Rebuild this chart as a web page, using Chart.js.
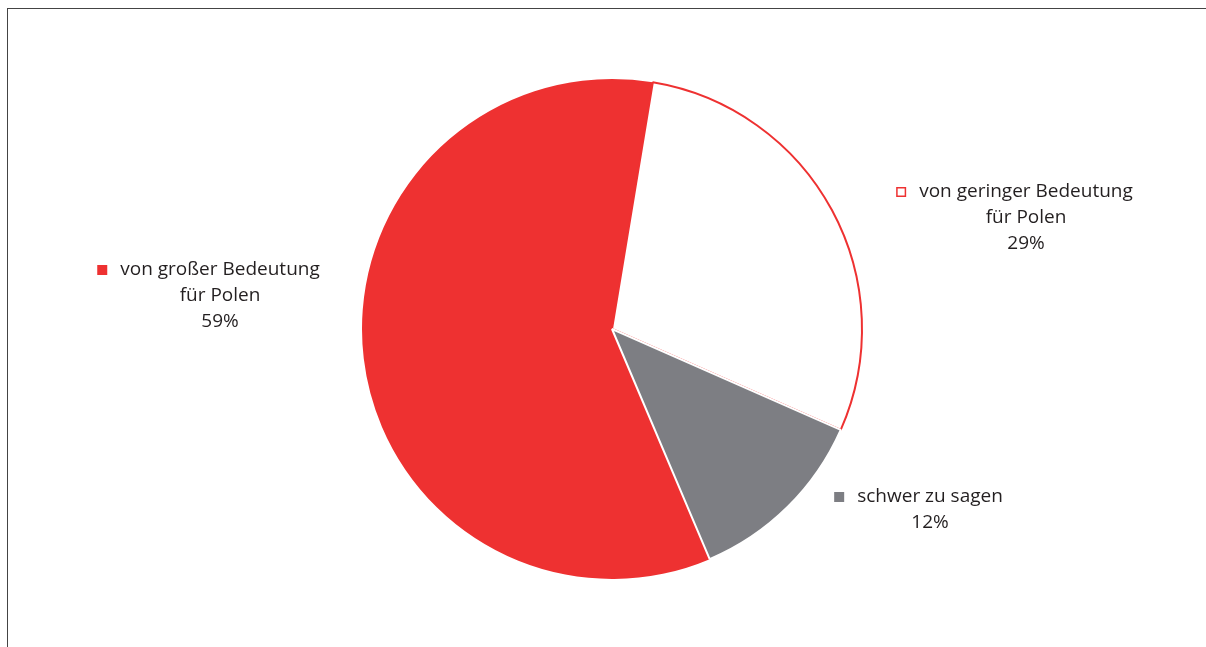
<!DOCTYPE html>
<html lang="de">
<head>
    <meta charset="UTF-8">
    <title>Bedeutung für Polen</title>
    <script src="https://cdn.jsdelivr.net/npm/chart.js"></script>
    <style>
        body {
            margin: 0;
            background: #fff;
            font-family: 'Open Sans', sans-serif;
        }

        .wrap {
            position: relative;
            width: 1206px;
            height: 647px;
            overflow: hidden;
        }

        .frame {
            position: absolute;
            left: 7px;
            top: 8px;
            right: -10px;
            bottom: -10px;
            border-top: 1.5px solid #444;
            border-left: 1.5px solid #444;
        }

        canvas {
            position: absolute;
            left: 0;
            top: 0;
        }
    </style>
</head>
<body>
<div class="wrap">
    <div class="frame"></div>
    <canvas id="pie" width="1206" height="647"></canvas>
</div>

<script>
// Daten
const labels = [
    ['von großer Bedeutung', 'für Polen'],
    ['von geringer Bedeutung', 'für Polen'],
    ['schwer zu sagen']
];
const values = [59, 29, 12];
const fillColors = ['#ee3131', '#ffffff', '#7d7e83'];
const edgeColors = ['#ee3131', '#ee3131', '#ffffff'];

// Position der Beschriftung relativ zur Mitte, in Radius-Einheiten
const labelPos = [
    [-1.568, -0.236],
    [1.656, -0.548],
    [1.272, 0.672]
];

const pieLabels = {
    id: 'pieLabels',
    afterDatasetsDraw(chart) {
        const ctx = chart.ctx;
        const meta = chart.getDatasetMeta(0);
        const arc0 = meta.data[0];
        const cx = arc0.x, cy = arc0.y, r = arc0.outerRadius;
        ctx.save();
        ctx.font = '19px "Open Sans"';
        ctx.textAlign = 'center';
        ctx.textBaseline = 'middle';
        labels.forEach((lines, i) => {
            const x = cx + labelPos[i][0] * r;
            const y = cy + labelPos[i][1] * r;
            const rows = lines.concat([values[i] + '%']);
            ctx.fillStyle = '#231f20';
            rows.forEach((t, j) => {
                ctx.fillText(t, x, y + j * 26);
            });
            // Marker vor der ersten Zeile
            const w = ctx.measureText(rows[0]).width;
            const mx = x - w / 2 - 23, my = y - 5;
            if (fillColors[i] === '#ffffff') {
                ctx.strokeStyle = edgeColors[i];
                ctx.lineWidth = 1.5;
                ctx.strokeRect(mx + 0.75, my + 0.75, 8.5, 8.5);
            } else {
                ctx.fillStyle = fillColors[i];
                ctx.fillRect(mx, my, 10, 10);
            }
        });
        ctx.restore();
    }
};

new Chart(document.getElementById('pie'), {
    type: 'pie',
    data: {
        labels: labels.map(l => l.join(' ')),
        datasets: [{
            data: values,
            backgroundColor: fillColors,
            borderColor: edgeColors,
            borderWidth: [0, 2, 2],
            hoverOffset: 0,
            hoverBorderWidth: 0
        }]
    },
    options: {
        responsive: false,
        animation: false,
        rotation: 157,
        layout: {
            padding: {top: 78, bottom: 67, left: 361, right: 343}
        },
        plugins: {
            legend: {display: false},
            tooltip: {enabled: false}
        }
    },
    plugins: [pieLabels]
});
</script>
</body>
</html>
